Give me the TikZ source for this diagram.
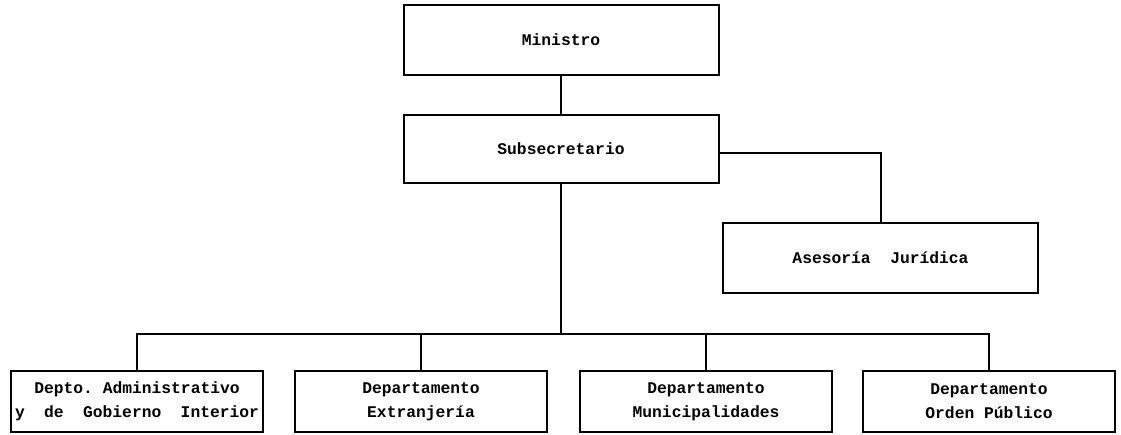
\documentclass[tikz,border=0pt]{standalone}
\usepackage{fontspec}
\setmonofont{Liberation Mono}
\usepackage{tikz}
\usetikzlibrary{calc}

\begin{document}
\begin{tikzpicture}[x = 1pt, y = -1pt, line width = 2pt,
	font = \ttfamily\bfseries\fontsize{16.3}{24}\selectfont]
			\useasboundingbox (0, 0) rectangle (1121, 434);
			
			\begin{scope}[every node/.style={rectangle, draw, minimum width = 315pt, minimum height = 70pt, inner sep = 0pt}]
			\node (0) at (561, 40) {Ministro};
			\node (1) [minimum height = 68pt] at (561, 149) {Subsecretario};
			\node (2) at (880.5, 258) {Asesoría~~Jurídica};
			\end{scope}
			
			\begin{scope}[every node/.style={rectangle, draw, minimum width = 252pt, minimum height = 61pt, inner sep = 0pt, align = center}]
			\node (3) at (137, 401.5) {Depto.~Administrativo\\\makebox[244pt]{y\hfill de\hfill Gobierno\hfill Interior}};
			\node (4) at (421, 401.5) {Departamento\\Extranjería};
			\node (5) at (706, 401.5) {Departamento\\Municipalidades};
			\node (6) at (989, 401.5) {Departamento\\Orden~Público};
			\end{scope}
			
			\coordinate (bus) at (561, 334);
			
			\draw (0) -- (1);
			\draw ([yshift = -4pt]1.east) -| (2.north);
			\draw (1.south) -- (bus);
			\draw (3.north) |- (bus) -| (6.north);
			\draw (4.north) -- (4.north |- bus);
			\draw (5.north) -- (5.north |- bus);
			
			\end{tikzpicture}
\end{document}
